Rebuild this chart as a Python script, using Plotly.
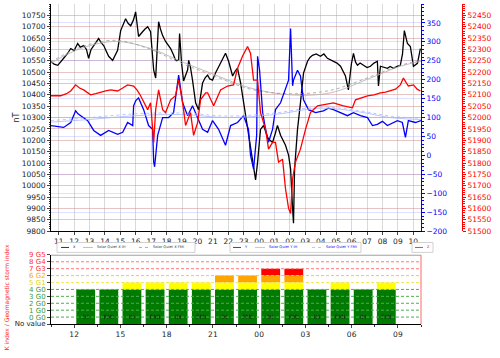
import plotly.graph_objects as go

# ---------------- data ----------------
# time axis in hours since 00:00 of the first day (labels wrap after 23)
main_tick_hours = list(range(11, 35))
main_tick_labels = ["11", "12", "13", "14", "15", "16", "17", "18", "19", "20", "21", "22",
                    "23", "00", "01", "02", "03", "04", "05", "06", "07", "08", "09", "10"]

X_t = [10.48, 10.7, 10.94, 11.1, 11.32, 11.55, 11.78, 12.0, 12.23, 12.4,
       12.62, 12.8, 12.94, 13.1, 13.27, 13.45, 13.59, 13.75, 13.92, 14.1,
       14.24, 14.5, 14.82, 15.02, 15.2, 15.34, 15.5, 15.67, 15.85, 15.99,
       16.18, 16.3, 16.44, 16.6, 16.77, 16.96, 17.16, 17.29, 17.42, 17.48,
       17.6, 17.74, 17.93, 18.1, 18.26, 18.45, 18.58, 18.78, 18.84, 18.97,
       19.10, 19.25, 19.36, 19.43, 19.55, 19.68, 19.88, 20.07, 20.2, 20.33,
       20.5, 20.66, 20.8, 20.98, 21.17, 21.35, 21.50, 21.65, 21.82, 22.02,
       22.15, 22.28, 22.45, 22.60, 22.80, 22.99, 23.15, 23.31, 23.45, 23.57,
       23.77, 23.90, 24.09, 24.29, 24.4, 24.55, 24.7, 24.87, 25.05, 25.19,
       25.39, 25.55, 25.71, 25.91, 26.04, 26.17, 26.23, 26.30, 26.49, 26.68,
       26.88, 27.14, 27.3, 27.46, 27.7, 27.98, 28.2, 28.43, 28.6, 28.82,
       29.05, 29.28, 29.45, 29.60, 29.79, 29.99, 30.12, 30.25, 30.38, 30.55,
       30.77, 31.0, 31.22, 31.45, 31.67, 31.74, 31.87, 32.1, 32.32, 32.5,
       32.71, 32.95, 33.16, 33.3, 33.42, 33.62, 33.81, 34.01, 34.15, 34.27,
       34.46]
X_v = [10548, 10535, 10530, 10545, 10561, 10580, 10604, 10595, 10626, 10610,
       10617, 10600, 10561, 10600, 10617, 10630, 10648, 10630, 10617, 10590,
       10570, 10552, 10596, 10683, 10710, 10735, 10715, 10704, 10730, 10765,
       10657, 10665, 10678, 10690, 10700, 10678, 10509, 10474, 10613, 10722,
       10690, 10661, 10635, 10620, 10604, 10575, 10552, 10552, 10670, 10539,
       10461, 10490, 10509, 10552, 10520, 10465, 10365, 10335, 10390, 10452,
       10475, 10487, 10470, 10465, 10496, 10520, 10539, 10560, 10583, 10548,
       10510, 10483, 10505, 10517, 10452, 10365, 10290, 10222, 10170, 10117,
       10026, 10104, 10248, 10265, 10240, 10213, 10200, 10191, 10230, 10265,
       10222, 10200, 10178, 10135, 10074, 9900, 9835, 10074, 10248, 10365,
       10496, 10548, 10565, 10574, 10580, 10570, 10580, 10561, 10555, 10548,
       10540, 10526, 10505, 10483, 10422, 10539, 10583, 10545, 10530, 10540,
       10530, 10520, 10526, 10540, 10548, 10439, 10526, 10520, 10517, 10525,
       10517, 10525, 10530, 10580, 10683, 10626, 10613, 10526, 10535, 10539,
       10604]

Y_t = [10.48, 10.9, 11.32, 11.78, 12.10, 12.25, 12.43, 12.88, 13.27, 13.72,
       14.24, 14.82, 15.15, 15.47, 15.80, 15.86, 16.0, 16.18, 16.51, 16.83,
       17.09, 17.16, 17.22, 17.42, 17.74, 18.13, 18.45, 18.78, 19.04, 19.36,
       19.68, 20.01, 20.33, 20.66, 20.98, 21.37, 21.82, 22.15, 22.60, 22.99,
       23.31, 23.44, 23.64, 23.84, 23.90, 24.03, 24.23, 24.42, 24.61, 24.87,
       25.06, 25.39, 25.71, 25.91, 26.04, 26.17, 26.23, 26.49, 26.68, 26.88,
       27.20, 27.66, 28.17, 28.5, 28.82, 29.28, 29.73, 30.12, 30.57, 31.03,
       31.35, 31.67, 32.0, 32.32, 32.97, 33.29, 33.49, 33.68, 34.14, 34.5]
Y_v = [79, 76, 74, 87, 118, 110, 105, 92, 66, 53,
       66, 56, 61, 87, 79, 131, 145, 152, 121, 79,
       69, -17, -30, 53, 100, 100, 113, 212, 139, 105,
       131, 100, 69, 61, 92, 69, 27, 79, 87, 105,
       69, 1, -36, 53, 262, 225, 113, 69, 35, 69,
       121, 139, 173, 199, 335, 184, 199, 225, 210, 147,
       121, 113, 118, 125, 121, 113, 105, 113, 105, 100,
       79, 82, 90, 79, 92, 87, 48, 92, 87, 92]

Z_t = [10.48, 11.13, 11.5, 11.78, 12.10, 12.35, 12.62, 13.07, 13.4, 13.72,
       14.05, 14.37, 14.82, 15.15, 15.47, 15.86, 16.1, 16.31, 16.55, 16.77,
       16.96, 17.09, 17.16, 17.29, 17.48, 17.74, 17.93, 18.26, 18.58, 18.78,
       19.04, 19.23, 19.55, 19.75, 20.01, 20.20, 20.53, 20.66, 21.05, 21.50,
       21.95, 22.34, 22.60, 22.92, 23.25, 23.44, 23.64, 23.90, 24.09, 24.42,
       24.61, 24.87, 25.06, 25.26, 25.52, 25.71, 25.91, 26.04, 26.17, 26.36,
       26.68, 27.01, 27.33, 27.79, 28.30, 28.82, 29.47, 30.05, 30.25, 30.6,
       31.03, 31.45, 31.87, 32.2, 32.52, 32.85, 33.16, 33.36, 33.68, 34.01,
       34.25, 34.46]
Z_v = [52096, 52096, 52105, 52117, 52144, 52130, 52122, 52100, 52105, 52113,
       52118, 52122, 52117, 52130, 52144, 52139, 52120, 52096, 52060, 52035,
       52065, 51948, 51891, 52035, 52122, 52035, 52022, 52078, 52096, 52165,
       52065, 51965, 52022, 51922, 51978, 52078, 52109, 52109, 52052, 52122,
       52139, 52144, 52217, 52270, 52313, 52283, 52165, 52165, 52022, 51948,
       51861, 51891, 51891, 51804, 51817, 51687, 51600, 51578, 51730, 51804,
       51861, 51948, 52022, 52052, 52057, 52065, 52052, 52043, 52078, 52085,
       52096, 52100, 52109, 52112, 52117, 52125, 52144, 52174, 52139, 52144,
       52125, 52117]

SQX_t = [10.48, 12.43, 14.69, 16.96, 18.91, 20.85, 23.44, 26.04, 28.63, 31.22, 33.16, 34.5]
SQX_IH = [10539, 10604, 10635, 10604, 10548, 10496, 10430, 10400, 10409, 10474, 10526, 10548]
SQX_FMI = [10545, 10610, 10640, 10600, 10540, 10490, 10425, 10405, 10420, 10480, 10530, 10552]

SQY_t = [10.48, 13.0, 16.0, 19.0, 22.0, 25.0, 28.0, 30.5, 32.5, 34.5]
SQY_IH = [88, 95, 105, 108, 100, 108, 125, 115, 100, 95]
SQY_FMI = [92, 100, 110, 112, 104, 112, 128, 118, 104, 98]

left_ticks = list(range(9800, 10800, 50))
blue_ticks = list(range(-200, 400, 50))
red_ticks = list(range(51500, 52500, 50))

# K index panel
K_start = [12.0, 13.5, 15.0, 16.5, 18.0, 19.5, 21.0, 22.5, 24.0, 25.5, 27.0, 28.5, 30.0, 31.5]
K_value = [4, 4, 5, 5, 5, 5, 6, 6, 7, 7, 4, 5, 4, 5]
K_source = ["IH", "FMI", "IH", "FMI", "IH", "FMI", "IH", "FMI", "IH", "FMI", "IH", "FMI", "IH", "FMI"]
K_tick_hours = [12, 15, 18, 21, 24, 27, 30, 33]
K_tick_labels = ["12", "15", "18", "21", "00", "03", "06", "09"]
K_levels = [-1, 0, 1, 2, 3, 4, 5, 6, 7, 8, 9]
K_level_labels = ["No value", "0 G0", "1 G0", "2 G0", "3 G0", "4 G0", "5 G1", "6 G2", "7 G3", "8 G4", "9 G5"]
K_level_colors = ["#222222", "#3a9a3a", "#3a9a3a", "#3a9a3a", "#3a9a3a", "#3a9a3a",
                  "#e8d800", "#ffa500", "#ff3030", "#ff3030", "#ff3030"]
K_line_colors = [None, "#4caf50", "#4caf50", "#4caf50", "#4caf50", "#4caf50",
                 "#f2e85a", "#ffc04d", "#ff7a7a", "#ff7a7a", None]

FONT = "DejaVu Sans"

# paper geometry helpers (figure 500x358, margins l=51 r=20 t=0 b=34)
ML, MR, MT, MB, W, H = 51, 20, 0, 34, 500, 358
PW, PH = W - ML - MR, H - MT - MB


def px(xp):
    return (xp - ML) / PW


def py(yp):
    return (H - MB - yp) / PH


fig = go.Figure()

series_style = [
    # name, x, y, axis, colour, dash, spline, width, legend group
    ("X", X_t, X_v, "y", "black", "solid", False, 1.3, 0),
    ("Solar Quiet X IH", SQX_t, SQX_IH, "y", "#b0b0b0", "solid", True, 0.8, 0),
    ("Solar Quiet X FMI", SQX_t, SQX_FMI, "y", "#9a9a9a", "dot", True, 0.8, 0),
    ("Y", Y_t, Y_v, "y2", "#0000ff", "solid", False, 1.3, 1),
    ("Solar Quiet Y IH", SQY_t, SQY_IH, "y2", "#a8b8ff", "solid", True, 0.8, 1),
    ("Solar Quiet Y FMI", SQY_t, SQY_FMI, "y2", "#a8b8ff", "dot", True, 0.8, 1),
    ("Z", Z_t, Z_v, "y3", "#ff0000", "solid", False, 1.3, 2),
]
for name, xs, ys, ax, col, dash, spl, w, g in series_style:
    fig.add_trace(go.Scatter(x=xs, y=ys, mode="lines", name=name, yaxis=ax,
                             line=dict(color=col, width=w, dash=dash,
                                       shape="spline" if spl else "linear"),
                             showlegend=False))

# ---------------- K index bars ----------------
bar_w = 1.22
bar_off = 0.14
green_h = [min(k, 4) + 1 for k in K_value]
yellow_h = [1 if k >= 5 else 0 for k in K_value]
orange_h = [1 if k >= 6 else 0 for k in K_value]
red_h = [1 if k >= 7 else 0 for k in K_value]
for base, hs, col in [(-1, green_h, "#007a00"), (4, yellow_h, "#ffff00"),
                      (5, orange_h, "#ffa500"), (6, red_h, "#ff0000")]:
    fig.add_trace(go.Bar(x=K_start, y=hs, base=base, width=bar_w, offset=bar_off,
                         marker=dict(color=col, line=dict(width=0)),
                         xaxis="x2", yaxis="y4", showlegend=False))
fig.add_trace(go.Scatter(x=[s + bar_off + bar_w / 2 for s in K_start], y=[0] * len(K_start),
                         mode="text", text=K_source, textfont=dict(size=6, color="#1a1a1a", family=FONT),
                         xaxis="x2", yaxis="y4", showlegend=False))

shapes = []
for lv, c in zip(K_levels, K_line_colors):
    if c is None:
        continue
    shapes.append(dict(type="line", xref="x2 domain", x0=0, x1=1, yref="y4", y0=lv, y1=lv,
                       line=dict(color=c, width=1, dash="3px,2px"), layer="above"))
shapes.append(dict(type="line", xref="x2 domain", x0=0, x1=1, yref="y4", y0=9, y1=9,
                   line=dict(color="#777777", width=1.2)))
shapes.append(dict(type="line", xref="x2 domain", x0=1, x1=1, yref="y4", y0=-1, y1=9,
                   line=dict(color="#ff8080", width=1.2)))

annotations = [
    dict(text="nT", xref="paper", yref="paper", x=px(17), y=py(115), xanchor="center",
         yanchor="middle", showarrow=False, textangle=-90,
         font=dict(family=FONT, size=8, color="#222222")),
    dict(text="K index / Geomagnetic storm index", xref="paper", yref="paper",
         x=px(7), y=py(297), xanchor="center", yanchor="middle", showarrow=False, textangle=-90,
         font=dict(family=FONT, size=6, color="#ff2020")),
]

# ---------------- hand-drawn legends (three boxes, matplotlib style) ----------------
legend_boxes = [(57, 195), (230, 361), (412, 433)]
legend_slots = [[(61, 69), (83, 93), (139, 149)],
                [(233, 241), (255, 265), (312, 322)],
                [(415, 423)]]
legend_text_col = ["#333333", "#0000ff", "#ff0000"]
LY0, LY1 = 241.5, 251.5
LYC = (LY0 + LY1) / 2
for g, (bx0, bx1) in enumerate(legend_boxes):
    shapes.append(dict(type="rect", xref="paper", yref="paper", x0=px(bx0), x1=px(bx1),
                       y0=py(LY1), y1=py(LY0), line=dict(color="#c4c4c4", width=0.8),
                       fillcolor="white", layer="above"))
    items = [s for s in series_style if s[8] == g]
    for (sx0, sx1), it in zip(legend_slots[g], items):
        shapes.append(dict(type="line", xref="paper", yref="paper", x0=px(sx0), x1=px(sx1),
                           y0=py(LYC), y1=py(LYC),
                           line=dict(color=it[4], width=0.8, dash=it[5]), layer="above"))
        annotations.append(dict(text=it[0], xref="paper", yref="paper", x=px(sx1 + 2), y=py(LYC),
                                xanchor="left", yanchor="middle", showarrow=False,
                                font=dict(family=FONT, size=3.6, color=legend_text_col[g])))

K_ticktext = [f"<span style='color:{c}'>{t}</span>" for t, c in zip(K_level_labels, K_level_colors)]

XDOM = [0, px(421)]
tickf = dict(family=FONT, size=7.5, color="#222222")

fig.update_layout(
    width=W, height=H,
    margin=dict(l=ML, r=MR, t=MT, b=MB),
    paper_bgcolor="white", plot_bgcolor="white",
    font=dict(family=FONT, size=7.5),
    showlegend=False,
    xaxis=dict(domain=XDOM, anchor="y", range=[10.5, 34.5], tickvals=main_tick_hours,
               ticktext=main_tick_labels, showgrid=True, gridcolor="#d9d9d9", gridwidth=1,
               showline=True, linecolor="black", linewidth=1, ticks="outside", ticklen=3,
               tickfont=tickf, zeroline=False),
    yaxis=dict(domain=[py(230), 1], range=[9800, 10800], tickvals=left_ticks, tickformat="d",
               showgrid=True, gridcolor="rgba(210,140,140,0.5)", gridwidth=1,
               showline=True, linecolor="black", linewidth=1, ticks="outside", ticklen=3,
               minor=dict(ticks="outside", ticklen=1.5, dtick=10, showgrid=False, tickcolor="#333"),
               tickfont=tickf, zeroline=False),
    yaxis2=dict(overlaying="y", side="right", anchor="x", range=[-200, 400], tickvals=blue_ticks,
                tickformat="d",
                showgrid=True, gridcolor="rgba(150,150,255,0.3)", gridwidth=1,
                showline=True, linecolor="#0000ff", linewidth=1, ticks="outside", ticklen=3,
                tickcolor="#0000ff",
                minor=dict(ticks="outside", ticklen=1.5, dtick=10, showgrid=False, tickcolor="#0000ff"),
                tickfont=dict(family=FONT, size=7.5, color="#0000ff"), zeroline=False),
    yaxis3=dict(overlaying="y", side="right", anchor="free", position=px(462),
                range=[51500, 52500], tickvals=red_ticks, tickformat="d", showgrid=False,
                showline=True, linecolor="#ff0000", linewidth=1, ticks="outside", ticklen=3,
                tickcolor="#ff0000",
                minor=dict(ticks="outside", ticklen=1.5, dtick=10, showgrid=False, tickcolor="#ff0000"),
                tickfont=dict(family=FONT, size=7.5, color="#ff0000"), zeroline=False),
    xaxis2=dict(domain=XDOM, anchor="y4", range=[10.5, 34.5], tickvals=K_tick_hours,
                ticktext=K_tick_labels, showgrid=False, showline=True, linecolor="black",
                linewidth=1, ticks="outside", ticklen=3,
                minor=dict(ticks="outside", ticklen=1.5, dtick=1.5, tickcolor="#333"),
                tickfont=tickf, zeroline=False),
    yaxis4=dict(domain=[0, py(254)], anchor="x2", range=[-1, 9], tickvals=K_levels,
                ticktext=K_ticktext, showgrid=False, showline=True, linecolor="black",
                linewidth=1, ticks="outside", ticklen=3, tickfont=dict(family=FONT, size=7),
                zeroline=False),
    barmode="overlay",
    shapes=shapes,
    annotations=annotations,
)

fig.write_html("out.html")
